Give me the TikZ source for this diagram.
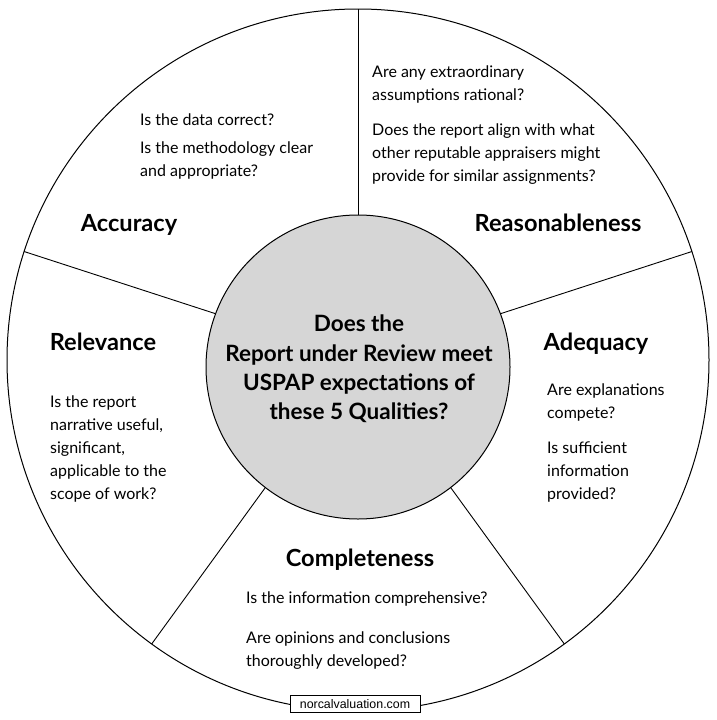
\documentclass[tikz,border=0pt]{standalone}
\usepackage{fontspec}
\setmainfont{Lato}
\newfontfamily\webfont{Liberation Sans}
\usetikzlibrary{calc}
\definecolor{hubgray}{HTML}{D6D6D6}
\tikzset{
  body/.style={font=\fontsize{16}{20}\selectfont, anchor=base west, inner sep=0pt},
  title/.style={font=\fontsize{23.6}{27}\selectfont\bfseries, anchor=base, inner sep=0pt},
  hubtext/.style={font=\fontsize{22.5}{26}\selectfont\bfseries, anchor=base, inner sep=0pt},
  divider/.style={draw=black, line width=0.9pt},
}
\begin{document}
\begin{tikzpicture}[x=1pt,y=-1pt]
\useasboundingbox (0,0) rectangle (717,720);
\fill[white] (0,0) rectangle (717,720);
\coordinate (c) at (358,360);
\node[draw=black, line width=1pt, circle, minimum size=702pt, inner sep=0pt] (outer) at (c) {};
\foreach \a/\n in {-90/p1,-162/p2,126/p3,54/p4,-18/p5}{
  \coordinate (\n) at ($(c)+(\a:351)$);
  \draw[divider] (\n) -- (c);
}
\node[draw=black, line width=1pt, fill=hubgray, circle, minimum size=304pt, inner sep=0pt] (hub) at (358,367) {};

% hub text
\node[hubtext] (h1) at (359,331) {Does the};
\node[hubtext] (h2) at (359,361) {Report under Review meet};
\node[hubtext] (h3) at (359,390) {USPAP expectations of};
\node[hubtext] (h4) at (359,419) {these 5 Qualities?};

% Accuracy
\node[title] (accuracy) at (129,231) {Accuracy};
\node[body] (a1) at (140,125) {Is the data correct?};
\node[body] (a2) at (140,153) {Is the methodology clear};
\node[body] (a3) at (140,176) {and appropriate?};

% Reasonableness
\node[title] (reason) at (558,231) {Reasonableness};
\node[body] (r1) at (372,77) {Are any extraordinary};
\node[body] (r2) at (372,100) {assumptions rational?};
\node[body] (r3) at (372,135) {Does the report align with what};
\node[body] (r4) at (372,158) {other reputable appraisers might};
\node[body] (r5) at (372,181) {provide for similar assignments?};

% Relevance
\node[title] (relevance) at (103,350) {Relevance};
\node[body] (v1) at (50,407) {Is the report};
\node[body] (v2) at (50,430) {narrative useful,};
\node[body] (v3) at (50,453) {significant,};
\node[body] (v4) at (50,476) {applicable to the};
\node[body] (v5) at (50,499) {scope of work?};

% Adequacy
\node[title] (adequacy) at (596,350) {Adequacy};
\node[body] (d1) at (547,395) {Are explanations};
\node[body] (d2) at (547,418) {compete?};
\node[body] (d3) at (547,453) {Is sufficient};
\node[body] (d4) at (547,476) {information};
\node[body] (d5) at (547,499) {provided?};

% Completeness
\node[title] (complete) at (360,566) {Completeness};
\node[body] (c1) at (246,603) {Is the information comprehensive?};
\node[body] (c2) at (246,643) {Are opinions and conclusions};
\node[body] (c3) at (246,666) {thoroughly developed?};

% footer
\node[draw=black, line width=0.6pt, fill=white, font=\webfont\fontsize{12.4}{14}\selectfont, minimum width=130pt, minimum height=17pt, inner sep=0pt] (site) at (355,704) {norcalvaluation.com};
\end{tikzpicture}
\end{document}
